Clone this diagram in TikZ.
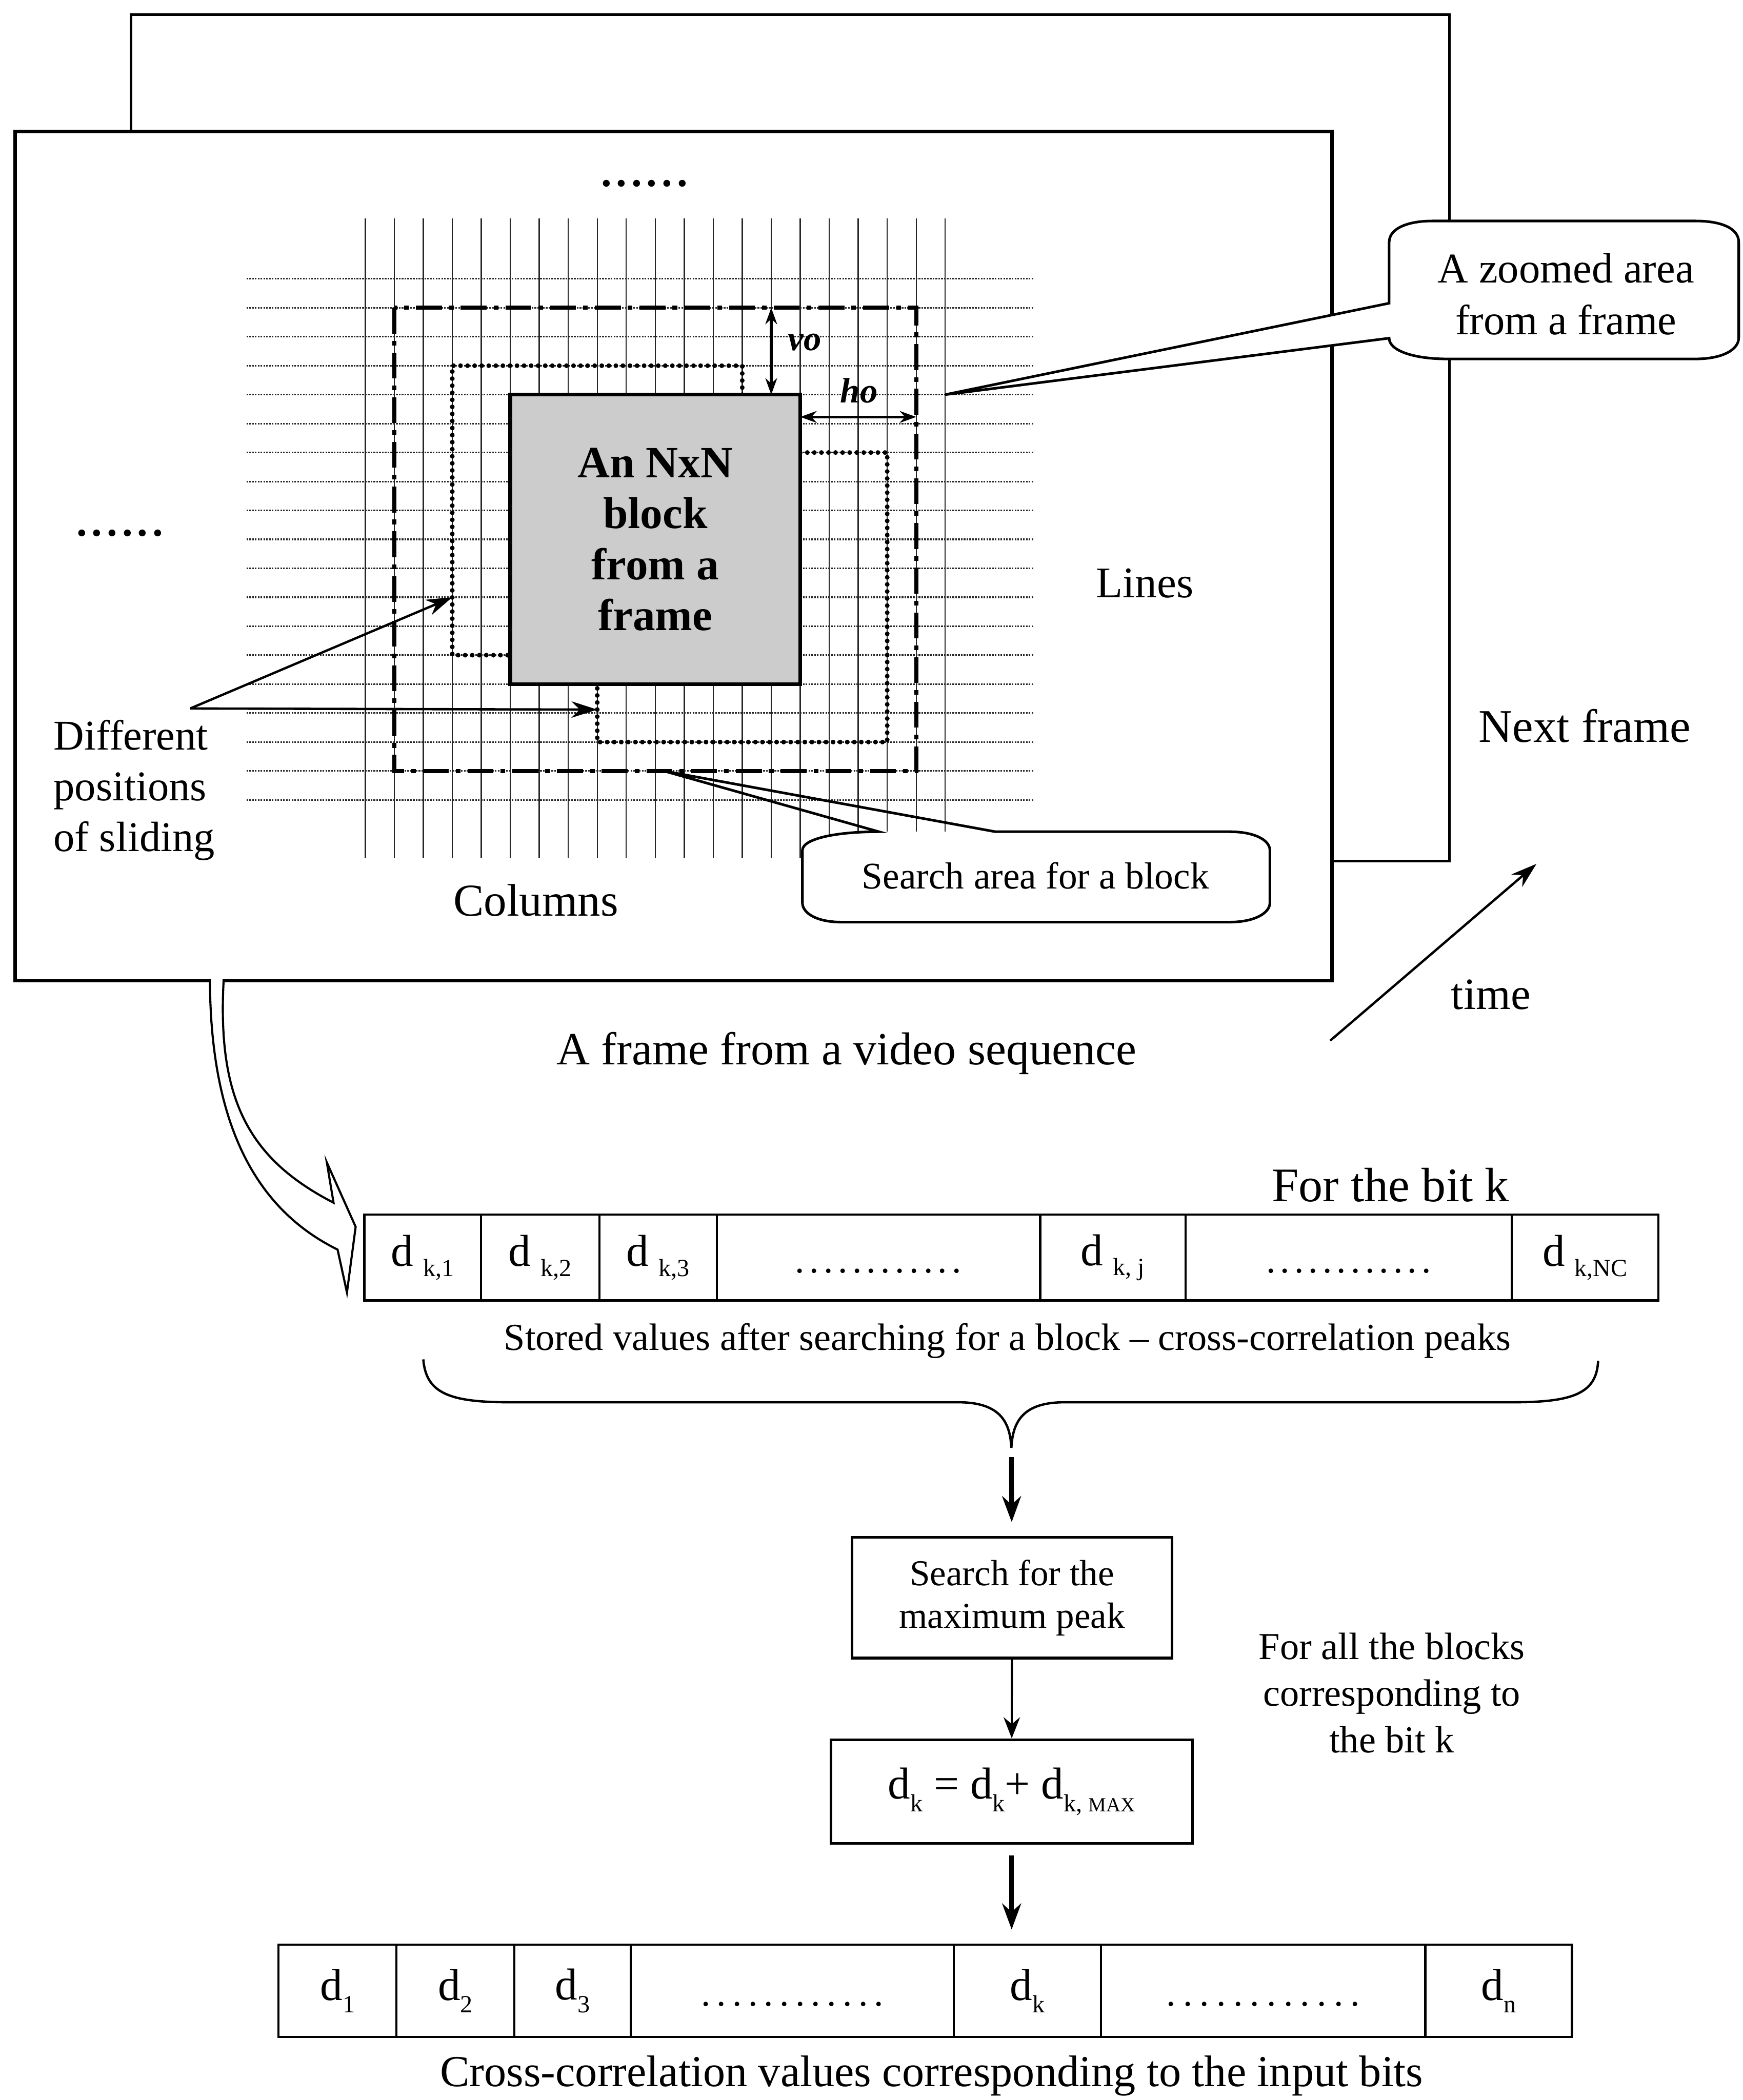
\documentclass[tikz,border=0pt]{standalone}
\usepackage{fontspec}
\setmainfont{Liberation Serif}
\usetikzlibrary{arrows.meta}

\newcommand\fs[2]{\fontsize{#1}{#2}\selectfont}
\newcount\dotcnt
% a run of #1 evenly spaced full stops, each in a slot #2 wide
\newcommand\dotrun[2]{\hbox{\dotcnt=0 \loop\ifnum\dotcnt<#1 \hbox to #2{\hss.\hss}\advance\dotcnt by 1 \repeat}}
% d with a spaced subscript (stored peaks) and with a tight subscript (bit values)
\newcommand\dks[1]{d\hspace{0.22em}\raisebox{-0.22em}{\fs{10.5}{12}#1}}
\newcommand\dsub[1]{d\raisebox{-0.28em}{\fs{10.5}{12}#1}}
% one cell of a register row: name, x1, x2, y1, y2, content
\newcommand\cellbox[6]{\node[cell, minimum width={(#3-#2)*0.02cm}, minimum height={(#5-#4)*0.02cm}] (#1) at ({(#2+#3)/2},{(#4+#5)/2}) {#6};}

\begin{document}
\begin{tikzpicture}[x=0.02cm, y=-0.02cm,
  txt/.style={inner sep=0pt, outer sep=0pt},
  frameline/.style={line width=1.5pt},
  backline/.style={line width=1.1pt},
  gridh/.style={line width=0.7pt, black!85, dash pattern=on 0.7pt off 0.5pt},
  gridv/.style={line width=0.5pt, black!85},
  searchline/.style={line width=1.7pt, dash pattern=on 11pt off 3pt on 2pt off 3pt},
  slideline/.style={line width=2pt, line cap=round, dash pattern=on 0pt off 3pt},
  cell/.style={draw, line width=0.9pt, inner sep=0pt, font=\fs{19}{21}},
  flowbox/.style={draw, line width=1.1pt, inner sep=0pt, align=center},
  thinarrow/.style={line width=0.9pt, -{Stealth[length=9pt, width=7pt]}},
  thickarrow/.style={line width=2pt, -{Stealth[length=11pt, width=8pt]}},
  ptr/.style={line width=1pt, -{Stealth[length=11pt, width=7pt]}},
  offset/.style={line width=1.1pt, {Stealth[length=7pt, width=5pt]}-{Stealth[length=7pt, width=5pt]}},
  callout/.style={line width=1.1pt}]

\useasboundingbox (0,0) rectangle (1301,1568);

% ---------- the two frames ----------
\node[draw, backline, inner sep=0pt, anchor=north west,
      minimum width={984*0.02cm}, minimum height={632*0.02cm}] (backframe) at (97,10) {};
\node[draw, frameline, fill=white, inner sep=0pt, anchor=north west,
      minimum width={983*0.02cm}, minimum height={634*0.02cm}] (frontframe) at (10,97) {};
\node[txt, anchor=base, font=\fs{19.9}{22}] (nextlbl) at (1183,554) {Next frame};

% ---------- zoomed grid of pixels ----------
\begin{scope}[shift={(272.7,208.2)}, x=0.433cm, y=-0.4324cm]
  \foreach \j in {0,...,18} \draw[gridh] (-4.1,\j) -- (23.06,\j);
  \foreach \i in {0,...,20} \draw[gridv] (\i,-2.09) -- (\i,20.02);
  % search area and two trial positions of the block
  \draw[searchline] (1,1) rectangle (19,17);
  \draw[slideline] (13,4) -- (13,3) -- (3,3) -- (3,13) -- (5,13);
  \draw[slideline] (15,6) -- (18,6) -- (18,16) -- (8,16) -- (8,14);
  % the block itself
  \node[draw, line width=1.6pt, fill=black!20, inner sep=0pt,
        minimum width=4.33cm, minimum height=4.324cm, align=center,
        font=\fs{19}{21.7}\bfseries] (block) at (10,9) {An NxN\\block\\from a\\frame};
  % vertical and horizontal offsets
  \coordinate (voTop) at (14,1);
  \coordinate (voBot) at (14,4);
  \coordinate (hoL) at (15,4.77);
  \coordinate (hoR) at (19,4.77);
  \draw[offset] (voTop) -- (voBot);
  \draw[offset] (hoL) -- (hoR);
  \node[txt, font=\fs{15}{17}\bfseries\itshape] (volbl) at (15.15,2.19) {vo};
  \node[txt, font=\fs{15}{17}\bfseries\itshape] (holbl) at (17.03,3.86) {ho};
  % anchor points used by the pointers
  \coordinate (slideA) at (3,11);
  \coordinate (slideB) at (8,14.88);
  \coordinate (zoomTip) at (20,4);
  \coordinate (searchTip) at (10.3,17);
\end{scope}

\node[txt, font=\fs{18}{20}\bfseries] (dotsTop) at (481,137) {\dotrun{6}{0.227cm}};
\node[txt, font=\fs{18}{20}\bfseries] (dotsLeft) at (89.5,398) {\dotrun{6}{0.227cm}};

\node[txt, anchor=base, font=\fs{18.6}{21}] (lineslbl) at (854.6,446) {Lines};
\node[txt, anchor=base, font=\fs{19.4}{21}] (colslbl) at (400,684) {Columns};

% sliding positions
\node[txt, anchor=west, align=left, font=\fs{18}{21.5}] (difflbl) at (40,590) {Different\\positions\\of sliding};
\coordinate (diffsrc) at (142,529);
\draw[ptr] (diffsrc) -- (slideA);
\draw[ptr] (diffsrc) -- (slideB);

% callout for the search area
\fill[white] (599,635) .. controls (599,626) and (625,621) .. (656,621) -- (918,621)
  .. controls (936,621) and (948,627) .. (948,635) -- (948,674)
  .. controls (948,682) and (936,688.5) .. (918,688.5) -- (628,688.5)
  .. controls (610,688.5) and (599,682) .. (599,674) -- cycle;
\draw[callout] (searchTip) -- (743,621) -- (918,621) .. controls (936,621) and (948,627) .. (948,635)
  -- (948,674) .. controls (948,682) and (936,688.5) .. (918,688.5) -- (628,688.5)
  .. controls (610,688.5) and (599,682) .. (599,674) -- (599,635)
  .. controls (599,626) and (625,621) .. (656,621) -- cycle;
\node[txt, font=\fs{16}{18}] (searchlbl) at (773,654) {Search area for a block};

% callout for the zoomed area
\draw[callout, fill=white] (zoomTip) -- (1037,226.4) -- (1037,181)
  .. controls (1037,170) and (1052,165) .. (1069,165) -- (1266,165)
  .. controls (1284,165) and (1298,170) .. (1298,181) -- (1298,252)
  .. controls (1298,262) and (1284,268) .. (1266,268) -- (1080,268)
  .. controls (1056,268) and (1037,262) .. (1037,252.5) -- cycle;
\node[txt, align=center, font=\fs{18}{22}] (zoomlbl) at (1169,219.5) {A zoomed area\\from a frame};

% time axis
\coordinate (timeS) at (993,777);
\coordinate (timeE) at (1147,645);
\draw[ptr] (timeS) -- (timeE);
\node[txt, anchor=base, font=\fs{19}{21}] (timelbl) at (1113,753.6) {time};

\node[txt, anchor=base, font=\fs{19.6}{22}] (caption) at (632,795) {A frame from a video sequence};

% hollow curved arrow from the frame to the stored values
\draw[line width=0.9pt, fill=white] (167,731) .. controls (162,820) and (185,865) .. (249,898)
  -- (244,868) -- (265.5,916) -- (259,965) -- (252,933)
  .. controls (185,900) and (157,830) .. (156.7,731);

% ---------- stored peaks for bit k ----------
\node[txt, anchor=base, font=\fs{20.5}{23}] (bitk) at (1038,897) {For the bit k};
\cellbox{c1}{272}{359}{907}{971}{\dks{k,1}}
\cellbox{c2}{359}{447.5}{907}{971}{\dks{k,2}}
\cellbox{c3}{447.5}{535}{907}{971}{\dks{k,3}}
\cellbox{c4}{535}{776.5}{907}{971}{\vphantom{d}\fs{16}{18}\dotrun{12}{0.213cm}}
\cellbox{c5}{776.5}{885}{907}{971}{\dks{k, j}}
\cellbox{c6}{885}{1128.5}{907}{971}{\vphantom{d}\fs{16}{18}\dotrun{12}{0.211cm}}
\cellbox{c7}{1128.5}{1238}{907}{971}{\dks{k,NC}}
\node[txt, anchor=base, font=\fs{16.2}{18}] (storedlbl) at (752,1008)
  {Stored values after searching for a block -- cross-correlation peaks};

% brace gathering all the stored values
\draw[line width=1pt] (316,1015) .. controls (318,1040) and (335,1047) .. (380,1047) -- (715,1047)
  .. controls (745,1047) and (754,1060) .. (755,1081)
  .. controls (756,1060) and (765,1047) .. (795,1047) -- (1130,1047)
  .. controls (1175,1047) and (1192,1040) .. (1193,1016);
\coordinate (bracetip) at (755,1081);

% ---------- processing steps ----------
\node[flowbox, minimum width={239*0.02cm}, minimum height={90*0.02cm}, font=\fs{15.5}{18.1}] (box1)
  at (755.5,1193) {Search for the\\maximum peak};
\node[flowbox, minimum width={270*0.02cm}, minimum height={77.5*0.02cm}, font=\fs{19}{21}] (box2)
  at (755.2,1337.7) {\dsub{k} = \dsub{k}+ d\raisebox{-0.28em}{\fs{10.5}{12}k, \fs{8.5}{10}MAX}};
\node[txt, align=center, font=\fs{16.2}{19.85}] (alllbl) at (1039,1264)
  {For all the blocks\\corresponding to\\the bit k};

\draw[thickarrow, shorten <=4pt, shorten >=6pt] (bracetip) -- (box1);
\draw[thinarrow] (box1) -- (box2);

% ---------- accumulated values for every bit ----------
\cellbox{r1}{208}{296}{1452}{1521}{\dsub{1}}
\cellbox{r2}{296}{384}{1452}{1521}{\dsub{2}}
\cellbox{r3}{384}{471}{1452}{1521}{\dsub{3}}
\cellbox{r4}{471}{712}{1452}{1521}{\vphantom{d}\fs{16}{18}\dotrun{12}{0.235cm}}
\cellbox{r5}{712}{822}{1452}{1521}{\dsub{k}}
\cellbox{r6}{822}{1064}{1452}{1521}{\vphantom{d}\fs{16}{18}\dotrun{12}{0.25cm}}
\cellbox{r7}{1064}{1173.5}{1452}{1521}{\dsub{n}}
\draw[thickarrow, shorten <=4.5pt, shorten >=6pt] (box2) -- (box2 |- r5.north);
\node[txt, anchor=base, font=\fs{18.8}{21}] (finallbl) at (695.5,1558)
  {Cross-correlation values corresponding to the input bits};

\end{tikzpicture}
\end{document}
